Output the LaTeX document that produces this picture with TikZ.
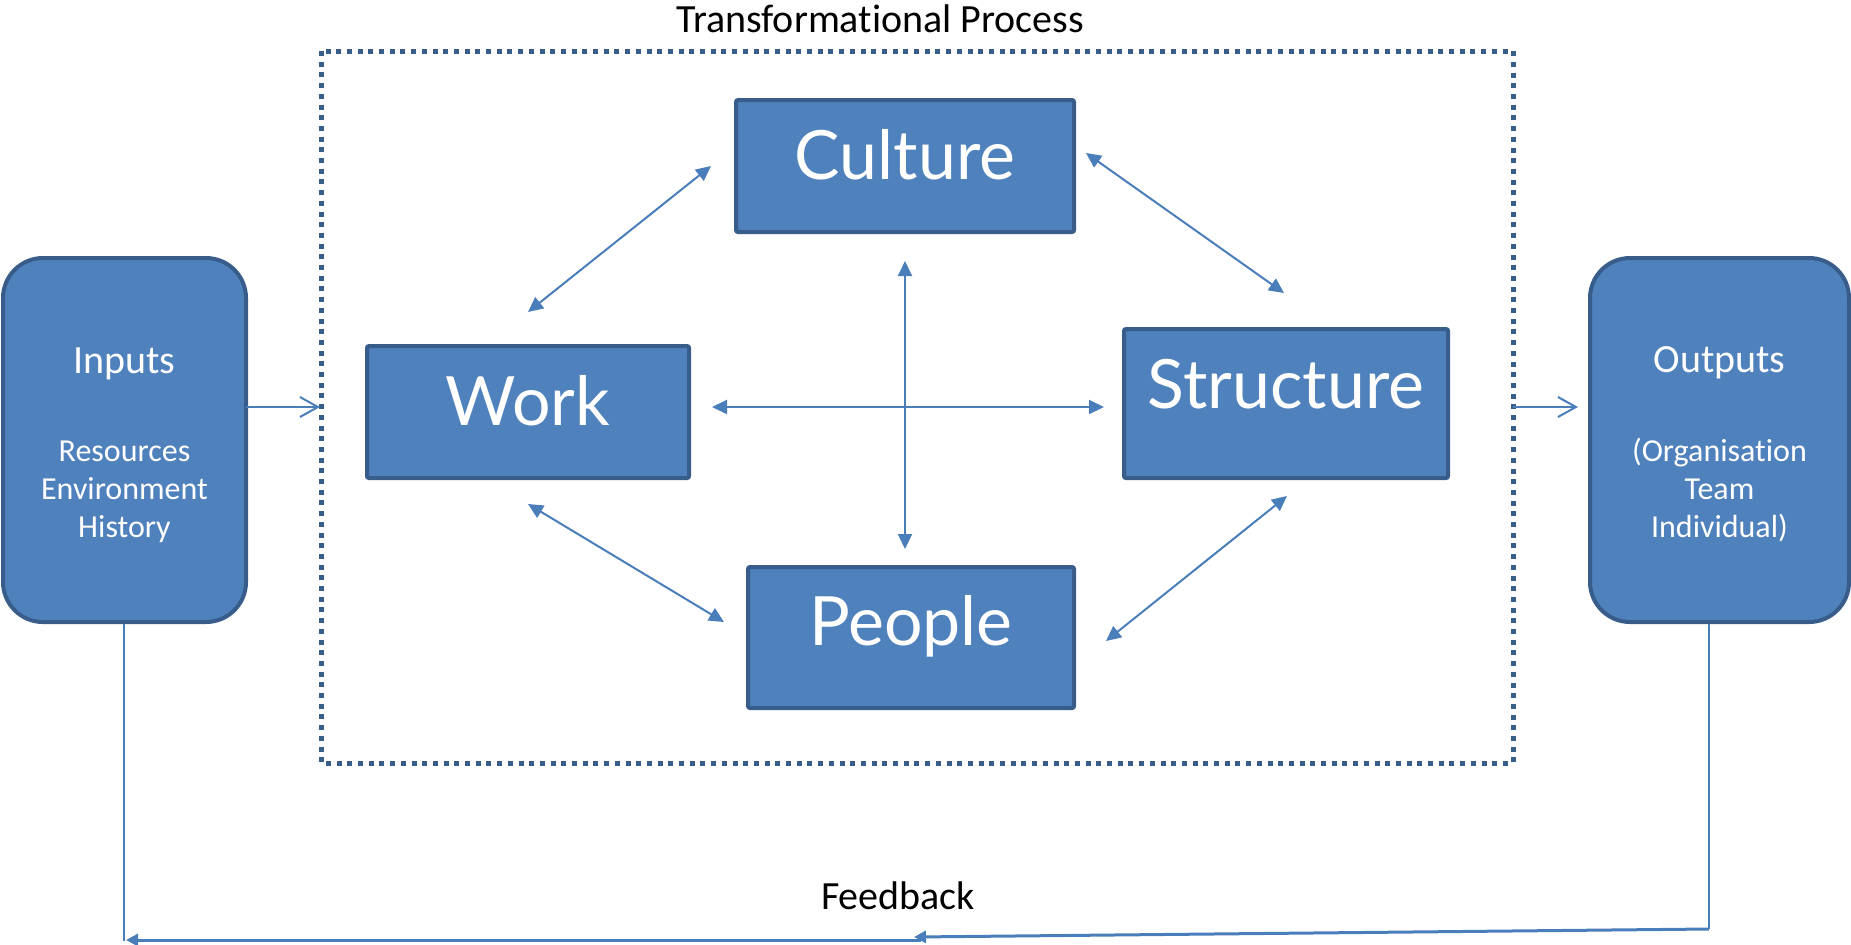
\documentclass[tikz,border=0pt]{standalone}
\usepackage{fontspec}
\setmainfont{Carlito}[Ligatures=NoCommon, Contextuals=NoAlternate]
\newfontfamily\bigfont{Lato}
\usetikzlibrary{arrows.meta}
\definecolor{boxfill}{RGB}{79,129,189}
\definecolor{boxline}{RGB}{56,93,138}
\definecolor{arrowc}{RGB}{74,126,187}
\tikzset{
  bigbox/.style={rectangle, fill=boxfill, draw=boxline, line width=2pt, rounded corners=1pt, inner sep=0pt},
  sidebox/.style={rectangle, fill=boxfill, draw=boxline, line width=2pt, rounded corners=20pt, inner sep=0pt, minimum height=182pt},
  bigtext/.style={text=white, font=\bigfont\fontsize{34}{40}\selectfont, anchor=base, inner sep=0pt},
  headtext/.style={text=white, font=\fontsize{20}{24}\selectfont, anchor=base, inner sep=0pt},
  subtext/.style={text=white, font=\fontsize{16}{19}\selectfont, anchor=base, inner sep=0pt, align=center},
  plaintext/.style={text=black, font=\fontsize{20}{24}\selectfont, anchor=base, inner sep=0pt},
  link/.style={draw=arrowc, line width=1pt, {Triangle[length=7.5pt,width=7pt]}-{Triangle[length=7.5pt,width=7pt]}},
  flow/.style={draw=arrowc, line width=1pt, -{Straight Barb[length=9pt,width=10pt,line width=1pt]}},
  fbthin/.style={draw=arrowc, line width=0.75pt},
  fbthick/.style={draw=arrowc, line width=1.5pt, -{Triangle[length=6pt,width=6pt]}},
  dottedframe/.style={draw=boxline, line width=2.5pt, dash pattern=on 2.5pt off 2.85pt}
}
\begin{document}
\begin{tikzpicture}[x=0.5pt, y=-0.5pt]
\useasboundingbox (0,0) rectangle (1851,944);

% transformational process frame
\draw[dottedframe] (321,51) rectangle (1513,763);
\node[plaintext] (tp) at (880,32) {Transformational Process};

% central boxes
\node[bigbox, minimum width=169pt, minimum height=66pt] (culture) at (905,166) {};
\node[bigtext] (culturet) at (905,179) {Culture};
\node[bigbox, minimum width=161pt, minimum height=66pt] (work) at (528,412) {};
\node[bigtext] (workt) at (528,425) {Work};
\node[bigbox, minimum width=162pt, minimum height=74.5pt] (structure) at (1286,403.5) {};
\node[bigtext] (structuret) at (1286,408) {Structure};
\node[bigbox, minimum width=163pt, minimum height=70.5pt] (people) at (911,637.5) {};
\node[bigtext] (peoplet) at (911,645) {People};

% side boxes
\node[sidebox, minimum width=121.5pt] (inputs) at (124.5,440) {};
\node[headtext] (inputst) at (124.5,373) {Inputs};
\node[subtext] (inputss) at (124.5,537) {Resources\\Environment\\History};
\node[sidebox, minimum width=129.5pt] (outputs) at (1719.5,440) {};
\node[headtext] (outputst) at (1719.5,372) {Outputs};
\node[subtext] (outputss) at (1719.5,537) {(Organisation\\Team\\Individual)};

% connector end points
\coordinate (cw1) at (711,166);
\coordinate (cw2) at (528,312);
\coordinate (cs1) at (1086,153);
\coordinate (cs2) at (1284,293);
\coordinate (v1) at (905,261);
\coordinate (v2) at (905,549);
\coordinate (h1) at (712,407);
\coordinate (h2) at (1104,407);
\coordinate (wp1) at (528,504);
\coordinate (wp2) at (724,622);
\coordinate (sp1) at (1287,496);
\coordinate (sp2) at (1106,641);

\draw[link] (cw1) -- (cw2);
\draw[link] (cs1) -- (cs2);
\draw[link] (v1) -- (v2);
\draw[link] (h1) -- (h2);
\draw[link] (wp1) -- (wp2);
\draw[link] (sp1) -- (sp2);

% input / output flows
\coordinate (inA) at (246,407);
\coordinate (inB) at (320,407);
\coordinate (outA) at (1513,407);
\coordinate (outB) at (1578,407);
\draw[flow] (inA) -- (inB);
\draw[flow] (outA) -- (outB);

% feedback
\coordinate (fbL) at (124,941);
\coordinate (fbR) at (1709,929);
\coordinate (fbM) at (914,937);
\coordinate (fbM2) at (921,940);
\coordinate (fbLtip) at (126,940);
\draw[fbthin] (inputs.south -| fbL) -- (fbL);
\draw[fbthin] (outputs.south -| fbR) -- (fbR);
\draw[fbthick] (fbR) -- (fbM);
\draw[fbthick] (fbM2) -- (fbLtip);
\node[plaintext] (fb) at (898,909) {Feedback};
\end{tikzpicture}
\end{document}
